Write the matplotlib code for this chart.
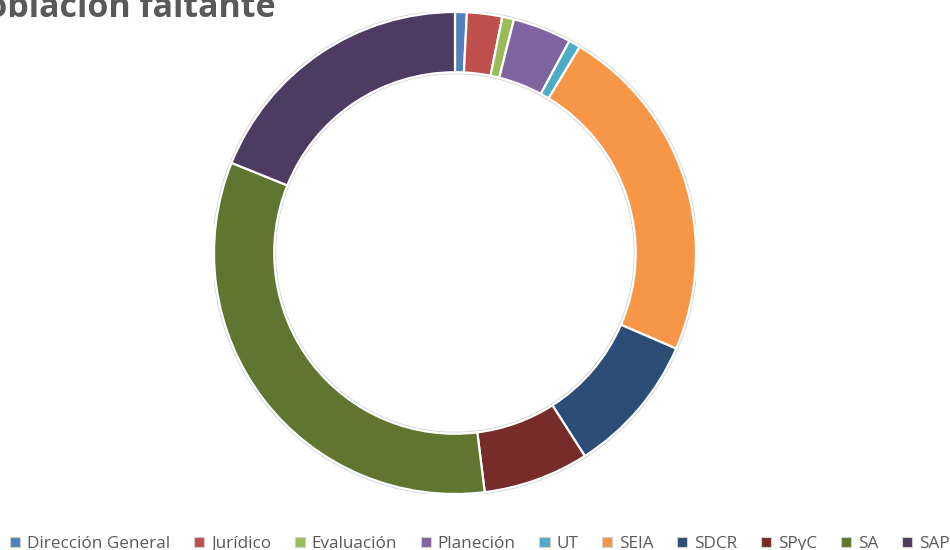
import matplotlib
matplotlib.use("Agg")
import matplotlib.pyplot as plt
from matplotlib.patches import Circle, Patch

# datos
areas = ["Dirección General", "Jurídico", "Evaluación", "Planeción", "UT",
         "SEIA", "SDCR", "SPyC", "SA", "SAP"]
faltante = [1, 3, 1, 5, 1, 29, 12, 9, 42, 24]
colores = ["#4F81BD", "#C0504D", "#9BBB59", "#8064A2", "#4BACC6",
           "#F79646", "#2C4D75", "#772C2A", "#5F7530", "#4D3B62"]

plt.rcParams["font.family"] = ["Open Sans", "DejaVu Sans"]

fig = plt.figure(figsize=(9.5, 5.5), dpi=100)
ax = fig.add_axes([214 / 950, 56 / 550, 482 / 950, 482 / 550])

wedges, _ = ax.pie(faltante, colors=colores, startangle=90, counterclock=False,
                   radius=1.0,
                   wedgeprops=dict(width=0.25, edgecolor="white", linewidth=1.6))
# contorno gris tenue (sombra)
for r in (1.006, 0.744):
    ax.add_patch(Circle((0, 0), r, fill=False, ec="#d4d4d4", lw=0.8, zorder=0))
ax.set_xlim(-1.0, 1.0)
ax.set_ylim(-1.0, 1.0)
ax.set_aspect("equal")
ax.axis("off")

# título (recortado a la izquierda como en la imagen)
fig.text(276 / 950, 1 - 17 / 550, "Población faltante", ha="right", va="baseline",
         fontsize=24.5, fontweight="bold", color="#595959")

handles = [Patch(facecolor=c, edgecolor="#d0d0d0", linewidth=0.8) for c in colores]
leg = fig.legend(handles, areas, loc="center left", bbox_to_anchor=(10 / 950, 1 - 544 / 550),
                 ncol=len(areas), frameon=False, fontsize=12.3,
                 handlelength=0.6, handleheight=0.6, handletextpad=0.4,
                 columnspacing=1.38, borderaxespad=0, borderpad=0)
for t in leg.get_texts():
    t.set_color("#595959")

fig.savefig("out.png", dpi=100)
